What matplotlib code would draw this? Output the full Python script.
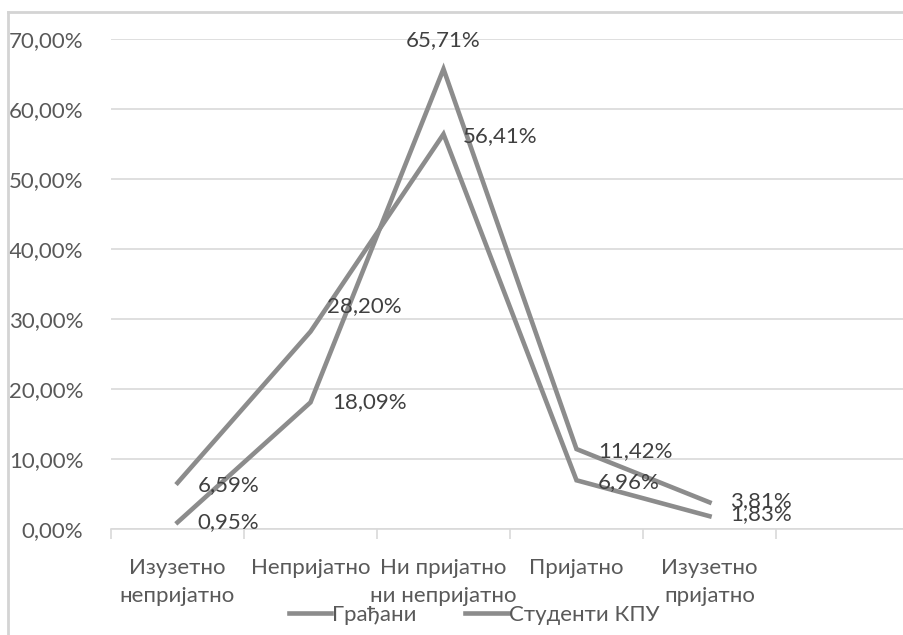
import numpy as np
import matplotlib.pyplot as plt
from matplotlib.lines import Line2D
from matplotlib.ticker import FuncFormatter

plt.rcParams['font.family'] = ['Lato', 'DejaVu Sans']

categories = ['Изузетно\nнепријатно', 'Непријатно', 'Ни пријатно\nни непријатно',
              'Пријатно', 'Изузетно\nпријатно']
gradjani = [6.59, 28.20, 56.41, 6.96, 1.83]
studenti = [0.95, 18.09, 65.71, 11.42, 3.81]
series_names = ['Грађани', 'Студенти КПУ']

# label offsets (pixels) for each point
off_g = [(20, -2), (17, 26), (19, -2), (21, -2), (21, 2)]
off_s = [(20, 0), (22, 0), (0, 29), (22, -2), (21, 1)]

line_col = '#8c8c8c'
txt_col = '#404040'
grid_col = '#d9d9d9'

fig = plt.figure(figsize=(9.04, 6.35), dpi=100)
ax = fig.add_axes([111/904, 1 - 529/635, 798/904, 490/635])

x = np.arange(len(categories))
l1, = ax.plot(x, gradjani, color=line_col, linewidth=3.3, solid_joinstyle='miter')
l2, = ax.plot(x, studenti, color=line_col, linewidth=3.3, solid_joinstyle='miter')

px = 0.72
for i, v in enumerate(gradjani):
    dx, dy = off_g[i]
    ax.annotate(f'{v:.2f}%'.replace('.', ','), (x[i], v), xytext=(dx*px, dy*px),
                textcoords='offset points', ha='left', va='center',
                fontsize=16, color=txt_col)
for i, v in enumerate(studenti):
    dx, dy = off_s[i]
    ax.annotate(f'{v:.2f}%'.replace('.', ','), (x[i], v), xytext=(dx*px, dy*px),
                textcoords='offset points', ha='center' if dx == 0 else 'left',
                va='center', fontsize=16, color=txt_col)

ax.set_xlim(-0.5, 5.5)
ax.set_ylim(0, 70)
ax.set_yticks(np.arange(0, 71, 10))
ax.yaxis.set_major_formatter(FuncFormatter(lambda v, p: f'{v:.2f}%'.replace('.', ',')))
ax.set_xticks(x)
ax.set_xticklabels(categories, fontsize=16, color='#595959', linespacing=1.5)
ax.set_xticks(np.arange(-0.5, 6, 1), minor=True)
ax.tick_params(axis='x', which='major', length=0, pad=21)
ax.tick_params(axis='x', which='minor', length=7, color=grid_col, width=1.2)
ax.tick_params(axis='y', length=0, pad=20, labelsize=16, labelcolor='#595959')
ax.grid(axis='y', color=grid_col, linewidth=1.2)
ax.set_axisbelow(True)
for s in ['top', 'right', 'left']:
    ax.spines[s].set_visible(False)
ax.spines['bottom'].set_color(grid_col)
ax.spines['bottom'].set_linewidth(1.2)

# chart frame (left and top edges visible)
fig.add_artist(Line2D([8/904, 8/904], [-0.05, 1 - 12/635], color='#d4d4d4', linewidth=2))
fig.add_artist(Line2D([8/904, 1.05], [1 - 12/635, 1 - 12/635], color='#d4d4d4', linewidth=2))

fig.legend([l1, l2], series_names, loc='center', bbox_to_anchor=(474/904, 1 - 615/635),
           ncol=2, frameon=False, fontsize=16, labelcolor='#595959',
           handlelength=1.9, handletextpad=0.05, columnspacing=2.2)

fig.savefig('out.png', dpi=100, facecolor='white')
